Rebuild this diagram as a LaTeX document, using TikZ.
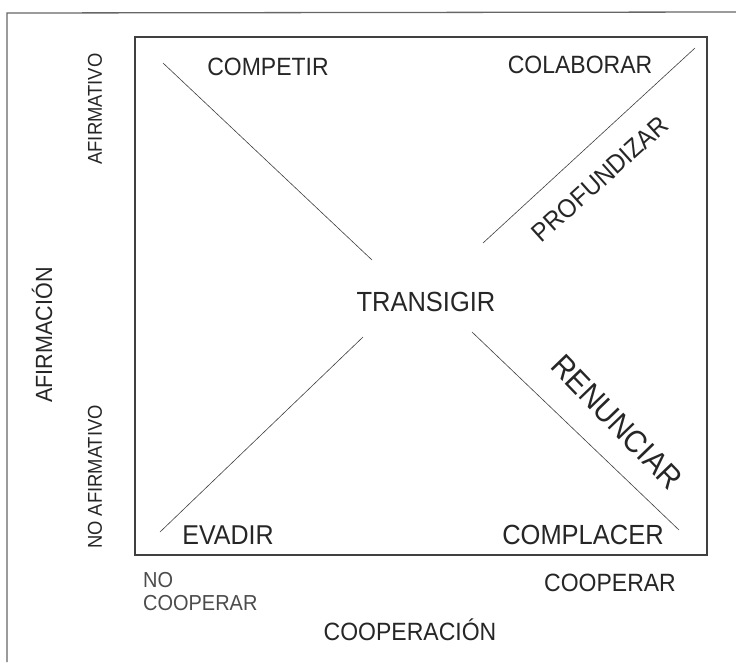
\documentclass[tikz,border=0pt]{standalone}
\usepackage{fontspec}
\setmainfont[FakeStretch=0.92]{Liberation Sans}
\begin{document}
\begin{tikzpicture}[x=1pt,y=-1pt,
  lbl/.style={inner sep=0pt, text=black!85},
  diag/.style={draw=black!75, line width=0.6pt},
  frame/.style={draw=black!75, line width=1.3pt}]
\useasboundingbox (0,0) rectangle (736,662);
\fill[white] (0,0) rectangle (736,662);
% outer frame (left and top edges)
\draw[draw=black!60, line width=1.3pt] (7,662) -- (7,13) -- (736,12);
% inner box
\draw[frame] (135,37) rectangle (707,555);
% diagonal guide lines
\coordinate (tla) at (163,63);  \coordinate (tlb) at (372,260);
\coordinate (tra) at (483,243); \coordinate (trb) at (695,48);
\coordinate (bla) at (160,532); \coordinate (blb) at (363,337);
\coordinate (bra) at (472,332); \coordinate (brb) at (679,530);
\draw[diag] (tla) -- (tlb);
\draw[diag] (tra) -- (trb);
\draw[diag] (bla) -- (blb);
\draw[diag] (bra) -- (brb);
% quadrant labels
\node[lbl, font=\fontsize{25}{25}\selectfont] (competir) at (268,67) {COMPETIR};
\node[lbl, font=\fontsize{25}{25}\selectfont] (colaborar) at (580,65) {COLABORAR};
\node[lbl, font=\fontsize{27.7}{27.7}\selectfont] (transigir) at (426,302) {TRANSIGIR};
\node[lbl, font=\fontsize{27.2}{27.2}\selectfont] (evadir) at (228,535) {EVADIR};
\node[lbl, font=\fontsize{27.7}{27.7}\selectfont] (complacer) at (583,535) {COMPLACER};
\node[lbl, font=\fontsize{26}{26}\selectfont, rotate=42] (profundizar) at (600,179) {PROFUNDIZAR};
\node[lbl, font=\fontsize{31.5}{31.5}\selectfont, rotate=-46] (renunciar) at (617,422) {RENUNCIAR};
% axis labels
\node[lbl, font=\fontsize{20}{20}\selectfont, rotate=90] (afirmativo) at (95,109) {AFIRMATIVO};
\node[lbl, font=\fontsize{20}{20}\selectfont, rotate=90] (noafirmativo) at (95,477) {NO AFIRMATIVO};
\node[lbl, font=\fontsize{23.4}{23.4}\selectfont, rotate=90] (afirmacion) at (42,335) {AFIRMACIÓN};
\node[lbl, font=\fontsize{21.7}{23}\selectfont, align=left, anchor=north west, text=black!70] (nocooperar) at (143,572) {NO\\COOPERAR};
\node[lbl, font=\fontsize{25}{25}\selectfont] (cooperar) at (610,583) {COOPERAR};
\node[lbl, font=\fontsize{25}{25}\selectfont] (cooperacion) at (410,630) {COOPERACIÓN};
\end{tikzpicture}
\end{document}
